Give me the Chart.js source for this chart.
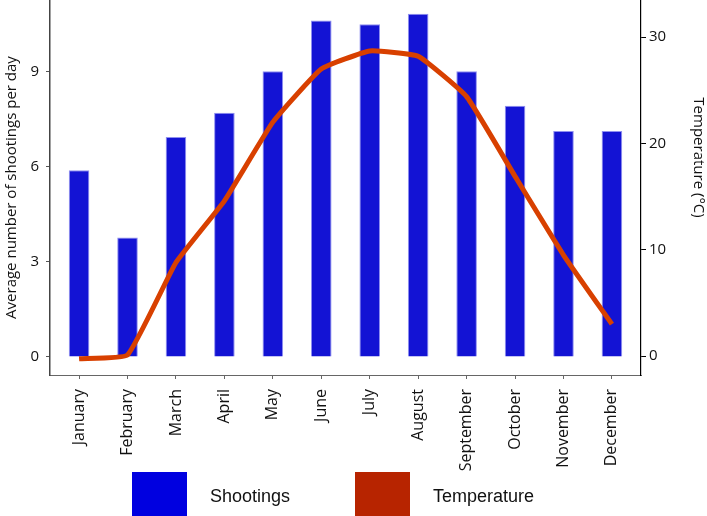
<!DOCTYPE html>
<html>
<head>
<meta charset="utf-8">
<script src="https://cdn.jsdelivr.net/npm/chart.js@4/dist/chart.umd.min.js"></script>
<style>
  html, body { margin: 0; padding: 0; background: #fff; }
  canvas { display: block; }
</style>
</head>
<body>
<canvas id="c" width="707" height="516"></canvas>
<script>
const months = ['January', 'February', 'March', 'April', 'May', 'June', 'July', 'August', 'September', 'October', 'November', 'December'];
const shootings = [5.88, 3.76, 6.93, 7.69, 9.0, 10.6, 10.48, 10.81, 9.0, 7.91, 7.12, 7.12];
const temperature = [-0.25, 0.1, 8.8, 14.6, 22.0, 27.0, 28.7, 28.2, 24.4, 16.9, 9.5, 3.0];
const shootingTicks = [0, 3, 6, 9];
const temperatureTicks = [0, 10, 20, 30];

const tickFont = { family: 'Open Sans', size: 15 };
const monthFont = { family: 'Open Sans', size: 16 };
const titleFont = { family: 'Open Sans', size: 15 };

const legendPlugin = {
  id: 'bigLegend',
  afterDraw(chart, args, opts) {
    const ctx = chart.ctx;
    ctx.save();
    ctx.font = '18px "Liberation Sans", Arial, sans-serif';
    ctx.textBaseline = 'middle';
    ctx.textAlign = 'left';
    opts.items.forEach(it => {
      ctx.fillStyle = it.color;
      ctx.fillRect(it.x, opts.top, opts.box, opts.boxH);
      ctx.fillStyle = '#111';
      ctx.fillText(it.text, it.x + opts.box + opts.gap, opts.textY);
    });
    ctx.restore();
  }
};

new Chart(document.getElementById('c'), {
  type: 'bar',
  data: {
    datasets: [
      {
        type: 'line',
        label: 'Temperature',
        data: temperature.map((v, i) => ({ x: i, y: v })),
        yAxisID: 'y1',
        borderColor: '#d84000',
        borderWidth: 5,
        pointRadius: 0,
        tension: 0.12,
        order: 0
      },
      {
        type: 'bar',
        label: 'Shootings',
        data: shootings.map((v, i) => ({ x: i, y: v })),
        yAxisID: 'y',
        backgroundColor: '#1313d4',
        borderColor: '#9090f0',
        borderWidth: 1,
        barPercentage: 0.425,
        categoryPercentage: 1,
        order: 1
      }
    ]
  },
  options: {
    responsive: false,
    animation: false,
    devicePixelRatio: 1,
    layout: { padding: 0 },
    plugins: {
      legend: { display: false },
      tooltip: { enabled: false },
      bigLegend: {
        top: 472, box: 55, boxH: 44, gap: 23, textY: 497,
        items: [
          { text: 'Shootings', color: '#0000e0', x: 132 },
          { text: 'Temperature', color: '#b72400', x: 355 }
        ]
      }
    },
    scales: {
      x: {
        type: 'linear',
        position: 'bottom',
        min: -0.6,
        max: 11.6,
        offset: false,
        afterBuildTicks: s => { s.ticks = months.map((m, i) => ({ value: i })); },
        afterFit: s => { s.height = 141; s.paddingLeft = 0; s.paddingRight = 0; },
        ticks: {
          callback: v => months[v],
          autoSkip: false,
          minRotation: 90,
          maxRotation: 90,
          padding: 10,
          font: monthFont,
          color: '#111'
        },
        grid: { drawOnChartArea: false, offset: false, tickLength: 4, color: '#666' },
        border: { color: '#666', width: 1 }
      },
      y: {
        type: 'linear',
        position: 'left',
        min: -0.567,
        max: 11.244,
        afterBuildTicks: s => { s.ticks = shootingTicks.map(v => ({ value: v })); },
        afterFit: s => { s.width = 50; s.paddingTop = 0; s.paddingBottom = 0; },
        ticks: { font: tickFont, color: '#111', padding: 7 },
        grid: { drawOnChartArea: false, tickLength: 4, color: '#555' },
        border: { color: '#444', width: 1.5 },
        title: {
          display: true,
          text: 'Average number of shootings per day',
          font: titleFont,
          color: '#111',
          padding: { top: 3, bottom: 0 }
        }
      },
      y1: {
        type: 'linear',
        position: 'right',
        min: -1.787,
        max: 33.49,
        afterBuildTicks: s => { s.ticks = temperatureTicks.map(v => ({ value: v })); },
        afterFit: s => { s.width = 66; s.paddingTop = 0; s.paddingBottom = 0; },
        ticks: { font: tickFont, color: '#111', padding: 3 },
        grid: { drawOnChartArea: false, tickLength: 5, color: '#000' },
        border: { color: '#000', width: 1.2 },
        title: {
          display: true,
          text: 'Temperature (°C)\u2003\u2003\u2003\u2003',
          font: titleFont,
          color: '#111',
          padding: { top: 0, bottom: 0 }
        }
      }
    }
  },
  plugins: [legendPlugin]
});
</script>
</body>
</html>
